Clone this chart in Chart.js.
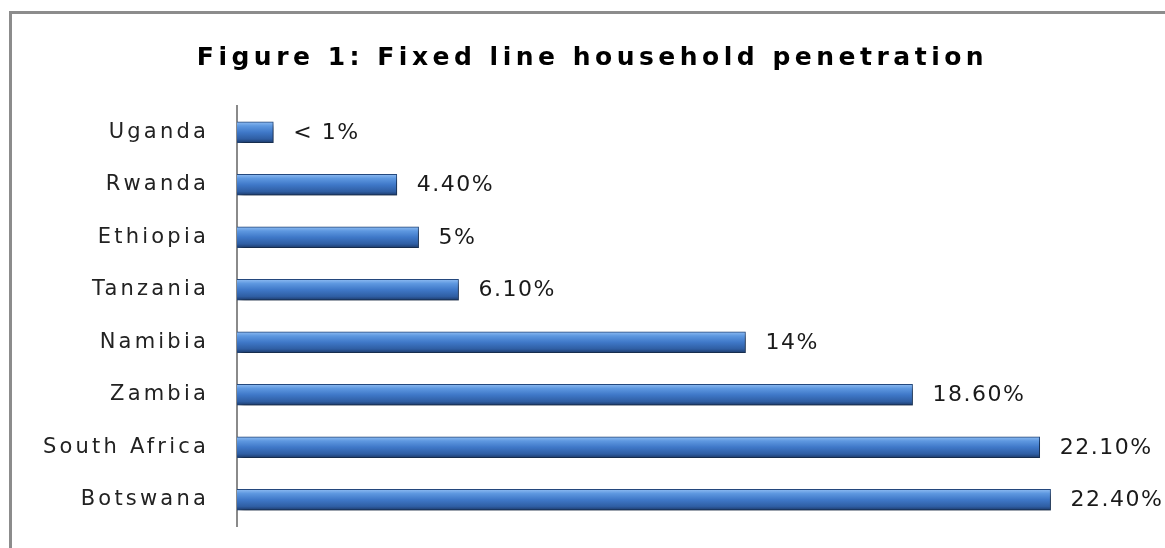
<!DOCTYPE html>
<html>
<head>
<meta charset="utf-8">
<script src="https://cdn.jsdelivr.net/npm/chart.js@4"></script>
<style>
  body { margin: 0; background: #fff; }
  #wrap { position: relative; width: 1165px; height: 548px; overflow: hidden; background: #fff; }
  #frame { position: absolute; left: 9px; top: 11px; width: 1200px; height: 600px; border: 3px solid #8c8c8c; }
  #box { position: absolute; left: 0; top: 0; width: 1165px; height: 548px; }
</style>
</head>
<body>
<div id="wrap">
  <div id="frame"></div>
  <div id="box"><canvas id="myChart"></canvas></div>
</div>
<script>
// data
const paises = ['Uganda', 'Rwanda', 'Ethiopia', 'Tanzania', 'Namibia', 'Zambia', 'South Africa', 'Botswana'];
const penetracion = [1.0, 4.4, 5, 6.1, 14, 18.6, 22.1, 22.4];
const etiquetas = ['< 1%', '4.40%', '5%', '6.10%', '14%', '18.60%', '22.10%', '22.40%'];

const barH = 21;

// bar fill: bevelled blue, gradient per bar from the y scale
function colorBarra(c) {
  const chart = c.chart;
  const ys = chart.scales.y;
  if (!ys || c.dataIndex === undefined) return '#4077c4';
  const yc = ys.getPixelForValue(c.dataIndex);
  if (!isFinite(yc)) return '#4077c4';
  const g = chart.ctx.createLinearGradient(0, yc - barH / 2, 0, yc + barH / 2);
  g.addColorStop(0, '#8fbcf2');
  g.addColorStop(0.2, '#5e98e0');
  g.addColorStop(0.5, '#3f78c8');
  g.addColorStop(0.82, '#2f5ea3');
  g.addColorStop(1, '#1c3a6a');
  return g;
}

// spacing + shadows + value labels
const estilo = {
  id: 'estilo',
  beforeDraw(chart) {
    chart.ctx.letterSpacing = '4.5px';   // title
  },
  beforeDatasetsDraw(chart) {
    const ctx = chart.ctx;
    ctx.save();
    ctx.shadowColor = 'rgba(0,0,0,0.45)';
    ctx.shadowOffsetX = 3;
    ctx.shadowOffsetY = 4;
    ctx.shadowBlur = 5;
  },
  afterDatasetsDraw(chart) {
    const ctx = chart.ctx;
    ctx.restore();
    const meta = chart.getDatasetMeta(0);
    ctx.save();
    ctx.letterSpacing = '1.5px';
    ctx.font = '22px "DejaVu Sans"';
    ctx.fillStyle = '#1a1a1a';
    ctx.textAlign = 'left';
    ctx.textBaseline = 'middle';
    meta.data.forEach((bar, i) => {
      ctx.fillText(etiquetas[i], bar.x + 20, bar.y + 1);
    });
    ctx.restore();
    ctx.letterSpacing = '3.2px';   // category labels (ticks layer drawn after datasets)
  },
  afterDraw(chart) {
    chart.ctx.letterSpacing = '0px';
  }
};

const ctx = document.getElementById('myChart');

new Chart(ctx, {
  type: 'bar',
  data: {
    labels: paises,
    datasets: [{
      data: penetracion,
      backgroundColor: colorBarra,
      borderColor: '#24497e',
      borderWidth: 1,
      borderSkipped: 'start',
      barThickness: barH
    }]
  },
  options: {
    indexAxis: 'y',
    responsive: true,
    maintainAspectRatio: false,
    devicePixelRatio: 1,
    animation: false,
    layout: { padding: { left: 20, right: 0, top: 0, bottom: 22 } },
    plugins: {
      legend: { display: false },
      tooltip: { enabled: false },
      title: {
        display: true,
        text: 'Figure 1: Fixed line household penetration',
        color: '#000',
        font: { family: 'DejaVu Sans', size: 25, weight: 'bold' },
        padding: { top: 43, bottom: 33 }
      }
    },
    scales: {
      x: {
        display: false,
        min: 0,
        max: 25.55
      },
      y: {
        grid: { display: false, drawTicks: false },
        border: { display: true, color: '#8a8a8a', width: 2 },
        ticks: {
          z: 1,
          color: '#222',
          padding: 28,
          font: { family: 'DejaVu Sans', size: 21 }
        },
        afterFit(scale) {
          scale.width = 217;
          scale.paddingTop = 0;
          scale.paddingBottom = 0;
        }
      }
    }
  },
  plugins: [estilo]
});
</script>
</body>
</html>
